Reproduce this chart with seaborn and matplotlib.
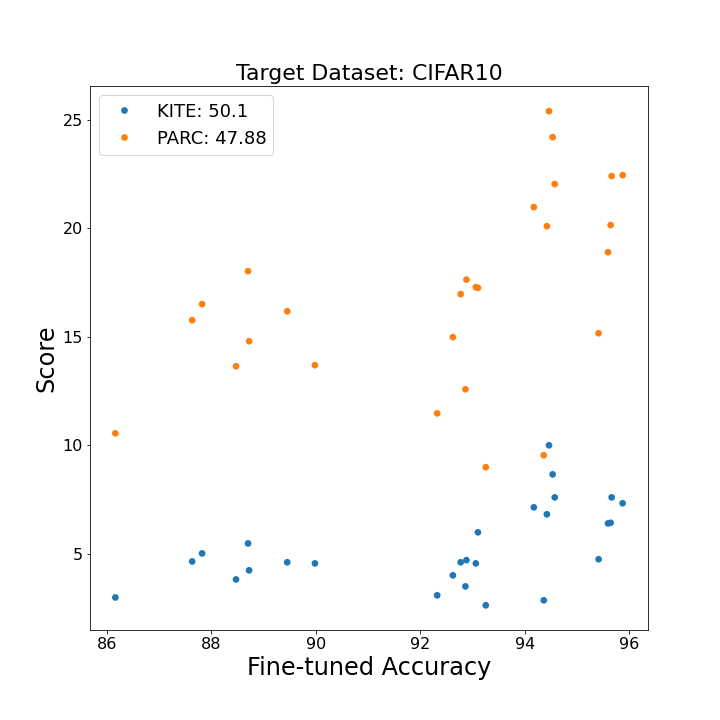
import matplotlib
matplotlib.use("Agg")
import matplotlib.pyplot as plt
import seaborn as sns
import pandas as pd

accuracy = [86.16, 87.63, 87.82, 88.47, 88.70, 88.72, 89.45, 89.98,
            92.32, 92.62, 92.77, 92.86, 92.88, 93.06, 93.10, 93.25,
            94.17, 94.36, 94.42, 94.46, 94.53, 94.57,
            95.41, 95.59, 95.64, 95.66, 95.87]
kite_scores = [3.00, 4.66, 5.03, 3.83, 5.49, 4.25, 4.62, 4.57,
               3.10, 4.02, 4.62, 3.51, 4.72, 4.57, 6.00, 2.64,
               7.15, 2.87, 6.83, 10.01, 8.67, 7.61,
               4.76, 6.41, 6.44, 7.61, 7.34]
parc_scores = [10.56, 15.77, 16.51, 13.65, 18.03, 14.80, 16.18, 13.70,
               11.48, 14.99, 16.97, 12.59, 17.64, 17.29, 17.26, 9.00,
               20.98, 9.55, 20.10, 25.40, 24.20, 22.04,
               15.17, 18.90, 20.15, 22.41, 22.45]
series_labels = ["KITE: 50.1", "PARC: 47.88"]
title = "Target Dataset: CIFAR10"
x_label = "Fine-tuned Accuracy"
y_label = "Score"

df = pd.concat([
    pd.DataFrame({"acc": accuracy, "score": kite_scores, "method": series_labels[0]}),
    pd.DataFrame({"acc": accuracy, "score": parc_scores, "method": series_labels[1]}),
], ignore_index=True)

fig, ax = plt.subplots(figsize=(10, 10), dpi=72)
fig.subplots_adjust(left=0.125, right=0.9, bottom=0.125, top=0.88)

sns.scatterplot(data=df, x="acc", y="score", hue="method",
                palette=["#1f77b4", "#ff7f0e"], s=45, linewidth=0, ax=ax)

ax.set_title(title, fontsize=22)
ax.set_xlabel(x_label, fontsize=24)
ax.set_ylabel(y_label, fontsize=24)
ax.tick_params(labelsize=16)
ax.set_xticks([86, 88, 90, 92, 94, 96])
ax.set_yticks([5, 10, 15, 20, 25])
ax.legend(loc="upper left", fontsize=18, title=None)

fig.savefig("out.png", dpi=72)
